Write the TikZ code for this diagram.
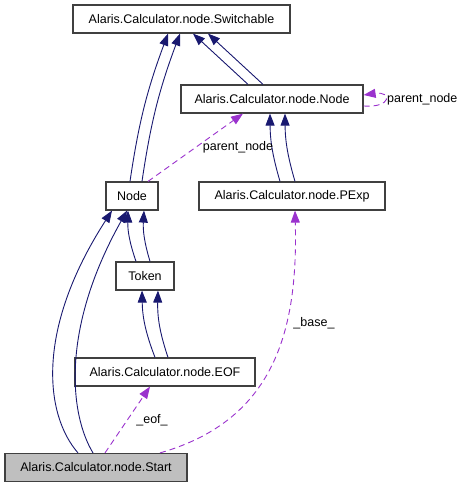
\documentclass[tikz,border=0pt]{standalone}
\usepackage{fontspec}
\setmainfont{Liberation Sans}
\usetikzlibrary{arrows.meta,positioning}

\definecolor{inhblue}{HTML}{191970}
\definecolor{usepurple}{HTML}{9A32CD}
\definecolor{boxedge}{HTML}{404040}
\definecolor{curfill}{HTML}{BFBFBF}

\begin{document}
\begin{tikzpicture}[
  x=1pt, y=-1pt,
  font=\fontsize{12.5}{14}\selectfont,
  cls/.style={draw=boxedge, line width=1.2pt, fill=white, minimum height=28pt,
              inner sep=2pt},
  cur/.style={cls, fill=curfill},
  inh/.style={-{Triangle[length=12pt,width=9pt]}, draw=inhblue, line width=0.9pt},
  use/.style={-{Triangle[length=12pt,width=9pt]}, draw=usepurple, line width=0.9pt,
              dash pattern=on 6pt off 4pt},
  lbl/.style={inner sep=0pt},
]
\useasboundingbox (0,0) rectangle (464,488);

% ---- class boxes ---------------------------------------------------------
\node[cls, minimum width=217pt] (switchable) at (181.5,19) {Alaris.Calculator.node.Switchable};
\node[cls, minimum width=182pt] (acnode) at (272,99) {Alaris.Calculator.node.Node};
\node[cls, minimum width=52pt]  (node)   at (132,196) {Node};
\node[cls, minimum width=186pt] (pexp)   at (292,196) {Alaris.Calculator.node.PExp};
\node[cls, minimum width=58pt]  (token)  at (145,276) {Token};
\node[cls, minimum width=180pt] (eof)    at (165,372) {Alaris.Calculator.node.EOF};
\node[cur, minimum width=182pt] (start)  at (96,467.5) {Alaris.Calculator.node.Start};

% ---- inheritance (drawn twice, as in the graph) --------------------------
\draw[inh] ([xshift=-2pt]node.north) to[bend left=6] ([xshift=-13.5pt]switchable.south);
\draw[inh] ([xshift=10pt]node.north) to[bend left=6] ([xshift=-1.5pt]switchable.south);
\draw[inh] ([xshift=-24pt]acnode.north) -- ([xshift=11.5pt]switchable.south);
\draw[inh] ([xshift=-9pt]acnode.north)  -- ([xshift=26.5pt]switchable.south);

\draw[inh] ([xshift=-12pt]pexp.north) to[bend left=8] ([xshift=-2pt]acnode.south);
\draw[inh] ([xshift=3pt]pexp.north)   to[bend left=8] ([xshift=13pt]acnode.south);

\draw[inh] ([xshift=-9pt]token.north) to[bend left=10] ([xshift=-4pt]node.south);
\draw[inh] ([xshift=5pt]token.north)  to[bend left=10] ([xshift=12pt]node.south);

\draw[inh] ([xshift=-10pt]eof.north) to[bend left=10] ([xshift=-3pt]token.south);
\draw[inh] ([xshift=3pt]eof.north)   to[bend left=10] ([xshift=13pt]token.south);

\draw[inh] ([xshift=-18pt]start.north) .. controls (45,415) and (35,330) .. ([xshift=-20pt]node.south);
\draw[inh] ([xshift=-3pt]start.north)  .. controls (70,415) and (60,330) .. ([xshift=-5pt]node.south);

% ---- usage relations ------------------------------------------------------
\draw[use] ([yshift=-7pt]acnode.east) .. controls (392,108) and (392,91) .. ([yshift=4pt]acnode.east);
\node[lbl, anchor=west] (selflbl) at (387,99) {parent\_node};

\draw[use] ([xshift=16pt]node.north) -- ([xshift=-29pt]acnode.south);
\node[lbl] (parentlbl) at (238,147) {parent\_node};

\draw[use] ([xshift=9pt]start.north) -- ([xshift=-15pt]eof.south);
\node[lbl] (eoflbl) at (152,420) {\_eof\_};

\draw[use] ([xshift=64pt]start.north) .. controls (275,420) and (298,330) .. ([xshift=3pt]pexp.south);
\node[lbl] (baselbl) at (314,323) {\_base\_};

\end{tikzpicture}
\end{document}
